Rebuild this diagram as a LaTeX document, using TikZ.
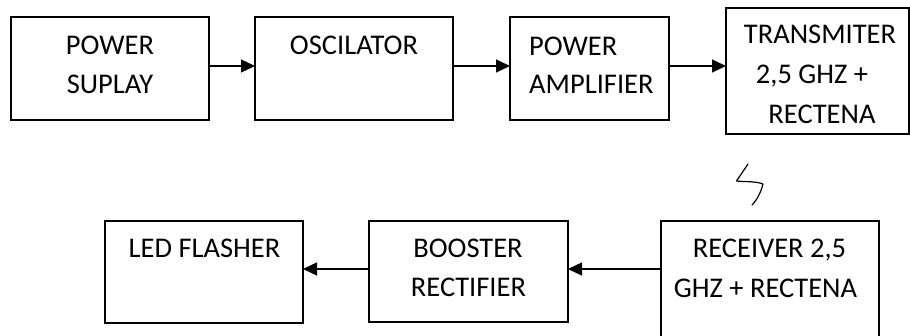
\documentclass[tikz,border=0pt]{standalone}
\usepackage{fontspec}
\setmainfont{Carlito}
\usetikzlibrary{arrows.meta}
\tikzset{
  box/.style={draw=black, line width=1.4pt, inner sep=0pt, outer sep=0pt, anchor=north west},
  lbl/.style={inner sep=0pt, font=\fontsize{28.5}{39}\selectfont, text=black},
  arr/.style={draw=black, line width=1.3pt, -{Triangle[length=14pt,width=13pt]}}
}
\begin{document}
\begin{tikzpicture}[x=1pt,y=-1pt]
\useasboundingbox (0,0) rectangle (910,335);
\fill[white] (0,0) rectangle (910,335);
\clip (0,0) rectangle (910,335);
% top row boxes
\node[box, minimum width=198pt, minimum height=103pt] (b1) at (11,17) {};
\node[box, minimum width=198pt, minimum height=103pt] (b2) at (255,17) {};
\node[box, minimum width=159pt, minimum height=103pt] (b3) at (510,17) {};
\node[box, minimum width=183pt, minimum height=126pt] (b4) at (726,8) {};
% bottom row boxes
\node[box, minimum width=198pt, minimum height=102pt] (b5) at (105,221) {};
\node[box, minimum width=199pt, minimum height=101pt] (b6) at (369,221) {};
\node[box, minimum width=218pt, minimum height=130pt] (b7) at (661,221) {};
% texts
\node[lbl, anchor=base] (t1a) at (110,54) {POWER};
\node[lbl, anchor=base] (t1b) at (110,93) {SUPLAY};
\node[lbl, anchor=base] (t2a) at (354,54) {OSCILATOR};
\node[lbl, anchor=base west] (t3a) at (529,55) {POWER};
\node[lbl, anchor=base west] (t3b) at (529,93) {AMPLIFIER};
\node[lbl, anchor=base] (t4a) at (820,43) {TRANSMITER};
\node[lbl, anchor=base] (t4b) at (812,83) {2,5 GHZ +};
\node[lbl, anchor=base] (t4c) at (822,123) {RECTENA};
\node[lbl, anchor=base] (t5a) at (204.5,257) {LED FLASHER};
\node[lbl, anchor=base] (t6a) at (468,257) {BOOSTER};
\node[lbl, anchor=base] (t6b) at (468.5,296) {RECTIFIER};
\node[lbl, anchor=base] (t7a) at (769.5,257) {RECEIVER 2,5};
\node[lbl, anchor=base] (t7b) at (765.5,297) {GHZ + RECTENA};
% connectors
\coordinate (ya) at (0,66);
\coordinate (yb) at (0,269);
\draw[arr] (b1.east |- ya) -- (b2.west |- ya);
\draw[arr] (b2.east |- ya) -- (b3.west |- ya);
\draw[arr] (b3.east |- ya) -- (b4.west |- ya);
\draw[arr] (b7.west |- yb) -- (b6.east |- yb);
\draw[arr] (b6.west |- yb) -- (b5.east |- yb);
% squiggle
\draw[line width=1.2pt, line cap=round, line join=round] (748,164) -- (736.5,181) .. controls (745,182) and (755,181) .. (763,184) .. controls (761,192) and (757,200) .. (752,205);
\end{tikzpicture}
\end{document}
